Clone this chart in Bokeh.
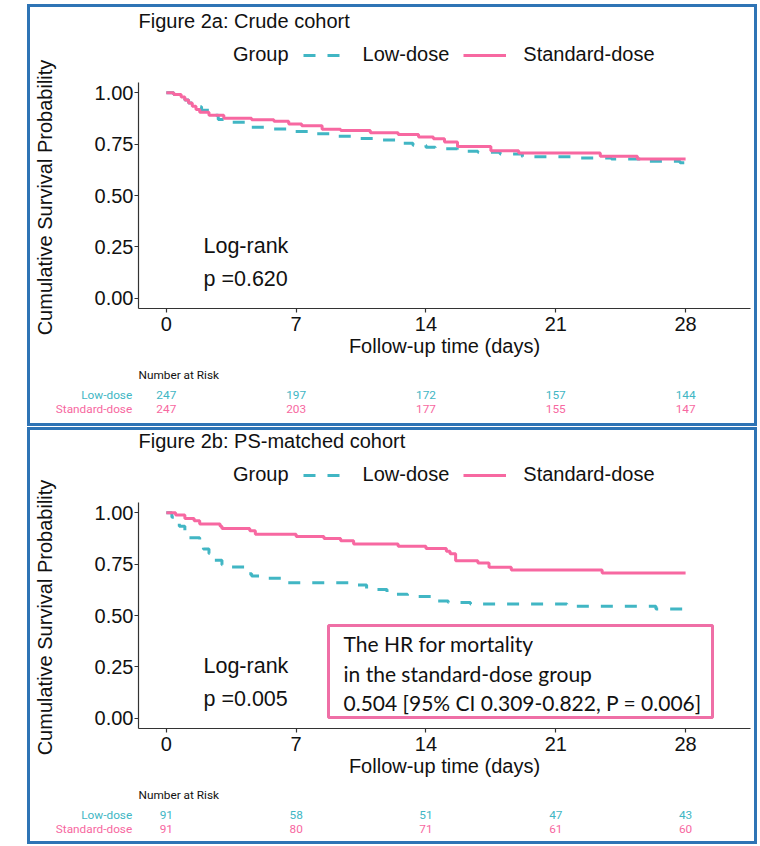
import math
from bokeh.plotting import figure
from bokeh.models import (Label, Legend, LegendItem, FixedTicker,
                          NumeralTickFormatter, BoxAnnotation)
from bokeh.core.properties import value
from bokeh.layouts import column, row
from bokeh.embed import file_html
from bokeh.resources import INLINE

# ---------------- data ----------------
groups = ["Low-dose", "Standard-dose"]
legend_title = "Group"
x_ticks = [0, 7, 14, 21, 28]
y_ticks = [0, 0.25, 0.5, 0.75, 1.0]
risk_times = [0, 7, 14, 21, 28]

# Figure 2a: crude cohort (Kaplan-Meier step points)
a_low_time = [0, 0.4, 0.8, 1.0, 1.2, 1.5, 1.9, 2.3, 2.8, 3.5, 4.5, 5.5, 6.8, 7.8, 9.0,
              10.2, 11.3, 12.4, 13.3, 14.0, 14.5, 15.7, 16.8, 18.0, 19.2, 21.8, 24.0,
              25.6, 27.7, 28.0]
a_low_surv = [1.0, 0.992, 0.978, 0.965, 0.95, 0.932, 0.915, 0.89, 0.87, 0.856, 0.832,
              0.824, 0.812, 0.80, 0.788, 0.778, 0.77, 0.754, 0.745, 0.735, 0.727, 0.715,
              0.711, 0.702, 0.689, 0.683, 0.678, 0.667, 0.659, 0.659]
a_std_time = [0, 0.4, 0.8, 1.0, 1.2, 1.4, 1.6, 1.8, 2.3, 3.1, 4.6, 5.8, 6.6, 7.3, 8.4,
              9.4, 11.0, 12.5, 13.6, 14.4, 15.0, 15.7, 17.5, 19.0, 23.4, 25.4, 28.0]
a_std_surv = [1.0, 0.992, 0.98, 0.965, 0.95, 0.935, 0.918, 0.905, 0.89, 0.876, 0.869,
              0.861, 0.848, 0.84, 0.823, 0.816, 0.806, 0.797, 0.785, 0.776, 0.76, 0.739,
              0.718, 0.707, 0.691, 0.678, 0.678]
a_risk_low = [247, 197, 172, 157, 144]
a_risk_std = [247, 203, 177, 155, 147]
a_pvalue = "0.620"

# Figure 2b: PS-matched cohort
b_low_time = [0, 0.3, 0.5, 0.7, 1.0, 1.2, 1.8, 2.0, 2.3, 2.6, 3.0, 3.4, 4.3, 4.6, 5.2,
              6.3, 10.0, 10.8, 11.9, 13.0, 14.4, 15.2, 16.4, 21.6, 26.4, 28.0]
b_low_surv = [1.0, 0.978, 0.956, 0.934, 0.912, 0.879, 0.846, 0.824, 0.802, 0.769, 0.747,
              0.736, 0.703, 0.692, 0.681, 0.659, 0.648, 0.626, 0.604, 0.593, 0.571,
              0.563, 0.556, 0.545, 0.532, 0.532]
b_std_time = [0, 0.5, 1.0, 1.5, 1.8, 2.9, 3.0, 4.5, 4.8, 7.0, 8.5, 9.4, 10.1, 12.5,
              14.0, 15.1, 15.3, 15.6, 16.8, 17.4, 18.6, 23.5, 28.0]
b_std_surv = [1.0, 0.989, 0.972, 0.961, 0.945, 0.934, 0.923, 0.912, 0.895, 0.885, 0.875,
              0.864, 0.848, 0.837, 0.826, 0.813, 0.80, 0.767, 0.756, 0.735, 0.722, 0.707,
              0.707]
b_risk_low = [91, 58, 51, 47, 43]
b_risk_std = [91, 80, 71, 61, 60]
b_pvalue = "0.005"
hr_lines = ["The HR for mortality",
            "in the standard-dose group",
            "0.504 [95% CI 0.309-0.822, P = 0.006]"]

# ---------------- style ----------------
LOW_COLOR = "#41B6C4"
STD_COLOR = "#F768A1"
BORDER = "#2E74B5"
FONT = "Liberation Sans"
RISK_FONT = "Roboto"
BOX_FONT = "Lato"
TXT = "#111111"

W = 724                      # inner width of each panel
YLAB_W = 40                  # strip holding the y-axis title
LEFT, RIGHT = 108, 4         # main-frame borders inside the panel
X0, X1 = -1.5, 31.5
Y0, Y1 = -0.05, 1.05
PLOT_H = 226                 # pixel height of the -0.05..1.05 band
FRAME_W = W - LEFT - RIGHT
PX_PER_DAY = FRAME_W / (X1 - X0)
PX_PER_UNIT = PLOT_H / (Y1 - Y0)
BOTTOM = 56


def no_align(f):
    try:
        f.frame_align = False
    except Exception:
        pass


def blank(width, height):
    f = figure(width=width, height=height, x_range=(0, width), y_range=(0, height),
               output_backend="svg", toolbar_location=None,
               x_axis_type=None, y_axis_type=None,
               min_border=0, min_border_left=0, min_border_right=0,
               min_border_top=0, min_border_bottom=0)
    no_align(f)
    f.outline_line_color = None
    f.grid.visible = False
    f.background_fill_color = "white"
    f.border_fill_color = "white"
    return f


def make_ylabel(head_px):
    height = head_px + PLOT_H + BOTTOM
    f = blank(YLAB_W, height)
    f.add_layout(Label(x=14, y=height - (head_px + PLOT_H / 2 + 2),
                       text="Cumulative Survival Probability", angle=math.pi / 2,
                       text_font=FONT, text_font_size="20px", text_color=TXT,
                       text_align="center", text_baseline="middle"))
    return f


def make_main(title, head_px, low_t, low_s, std_t, std_s, pval, hr=None):
    y_top = Y1 + head_px / PX_PER_UNIT
    height = head_px + PLOT_H + BOTTOM
    p = figure(width=W - YLAB_W, height=height, x_range=(X0, X1), y_range=(Y0, y_top),
               output_backend="svg", toolbar_location=None,
               min_border_left=LEFT - YLAB_W, min_border_right=RIGHT,
               min_border_top=0, min_border_bottom=BOTTOM)
    no_align(p)
    p.outline_line_color = None
    p.grid.visible = False
    p.background_fill_color = "white"
    p.border_fill_color = "white"

    r_low = p.step(low_t, low_s, mode="after", line_color=LOW_COLOR, line_width=3,
                   line_dash="12 12")
    r_std = p.step(std_t, std_s, mode="after", line_color=STD_COLOR, line_width=3)

    for ax in (p.xaxis[0], p.yaxis[0]):
        ax.axis_line_color = "#333333"
        ax.axis_line_width = 1.2
        ax.major_tick_line_color = "#333333"
        ax.major_tick_line_width = 1.2
        ax.major_tick_out = 4
        ax.major_tick_in = 0
        ax.minor_tick_line_color = None
        ax.major_label_text_font = FONT
        ax.major_label_text_font_size = "20px"
        ax.major_label_text_color = TXT
        ax.axis_label_text_font = FONT
        ax.axis_label_text_font_size = "20px"
        ax.axis_label_text_font_style = "normal"
        ax.axis_label_text_color = TXT
    p.xaxis.ticker = FixedTicker(ticks=x_ticks)
    p.yaxis.ticker = FixedTicker(ticks=y_ticks)
    p.yaxis.bounds = (Y0, Y1)
    p.yaxis.formatter = NumeralTickFormatter(format="0.00")
    p.xaxis.axis_label = "Follow-up time (days)"
    p.xaxis.major_label_standoff = 4
    p.xaxis.axis_label_standoff = 1
    p.yaxis.major_label_standoff = 1

    def y_at(px):   # pixel offset below the 1.05 line -> data y
        return Y1 - px / PX_PER_UNIT

    def x_at(px):   # pixel offset right of frame left -> data x
        return X0 + px / PX_PER_DAY

    # title
    p.add_layout(Label(x=X0, y=y_at(-62), text=title, text_font=FONT,
                       text_font_size="20px", text_color=TXT,
                       text_baseline="middle", text_align="left"))
    # legend (title item "Group" has no key)
    legend = Legend(items=[LegendItem(label=legend_title, renderers=[]),
                           LegendItem(label=groups[0], renderers=[r_low]),
                           LegendItem(label=groups[1], renderers=[r_std])],
                    orientation="horizontal",
                    location=(35, PLOT_H + 27.3 - 12),
                    glyph_width=43, glyph_height=24, label_height=24,
                    label_standoff=17, spacing=14, padding=0, margin=0,
                    border_line_color=None, background_fill_alpha=0,
                    label_text_font=FONT, label_text_font_size="20px",
                    label_text_color=TXT)
    p.add_layout(legend)

    # log-rank
    p.add_layout(Label(x=x_at(65), y=y_at(163.7), text="Log-rank", text_font=FONT,
                       text_font_size="21.5px", text_color=TXT,
                       text_baseline="middle", text_align="left"))
    p.add_layout(Label(x=x_at(65), y=y_at(196), text="p =" + pval, text_font=FONT,
                       text_font_size="21.5px", text_color=TXT,
                       text_baseline="middle", text_align="left"))

    if hr is not None:
        p.add_layout(BoxAnnotation(left=x_at(190), right=x_at(574),
                                   top=y_at(123), bottom=y_at(215),
                                   fill_color="white", fill_alpha=1,
                                   line_color="#EF6FA6", line_alpha=1,
                                   line_width=3))
        for i, line in enumerate(hr):
            p.add_layout(Label(x=x_at(205), y=y_at(141 + 29.5 * i), text=line,
                               text_font=BOX_FONT, text_font_size="21px",
                               text_color=TXT, text_baseline="middle",
                               text_align="left"))
    return p


def make_risk(risk_low, risk_std, height):
    xr = (X0 - LEFT / PX_PER_DAY, X1 + RIGHT / PX_PER_DAY)
    r = figure(width=W, height=height, x_range=xr, y_range=(height, 0),
               output_backend="svg", toolbar_location=None,
               x_axis_type=None, y_axis_type=None,
               min_border=0, min_border_left=0, min_border_right=0,
               min_border_top=0, min_border_bottom=0)
    no_align(r)
    r.outline_line_color = None
    r.grid.visible = False
    r.background_fill_color = "white"
    r.border_fill_color = "white"
    fs = "11.8px"
    r.text(x=[X0], y=[10], text=["Number at Risk"], text_font=value(RISK_FONT),
           text_font_size=fs, text_color=TXT, text_baseline="middle",
           text_align="left")
    lab_x = X0 - 6.3 / PX_PER_DAY
    r.text(x=[lab_x, lab_x], y=[30.5, 44.3], text=groups, text_font=value(RISK_FONT),
           text_font_size=fs, text_color=[LOW_COLOR, STD_COLOR],
           text_baseline="middle", text_align="right")
    r.text(x=risk_times, y=[30.5] * len(risk_times), text=[str(n) for n in risk_low],
           text_font=value(RISK_FONT), text_font_size=fs, text_color=LOW_COLOR,
           text_baseline="middle", text_align="center")
    r.text(x=risk_times, y=[44.3] * len(risk_times), text=[str(n) for n in risk_std],
           text_font=value(RISK_FONT), text_font_size=fs, text_color=STD_COLOR,
           text_baseline="middle", text_align="center")
    return r


box = {"box-shadow": "0 0 0 3px " + BORDER}

panel_a = column(row(make_ylabel(75),
                     make_main("Figure 2a: Crude cohort", 75, a_low_time, a_low_surv,
                               a_std_time, a_std_surv, a_pvalue), spacing=0),
                 make_risk(a_risk_low, a_risk_std, 59),
                 spacing=0, styles=box, margin=(7, 0, 0, 30))
panel_b = column(row(make_ylabel(72),
                     make_main("Figure 2b: PS-matched cohort", 72, b_low_time,
                               b_low_surv, b_std_time, b_std_surv, b_pvalue,
                               hr=hr_lines), spacing=0),
                 make_risk(b_risk_low, b_risk_std, 57),
                 spacing=0, styles=box, margin=(7, 0, 0, 30))

layout = column(panel_a, panel_b, spacing=0)
open("out.html", "w").write(file_html(layout, INLINE))
